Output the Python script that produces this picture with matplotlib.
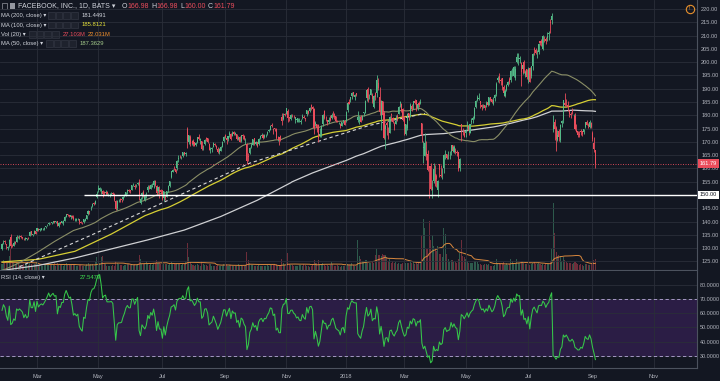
import numpy as np
import pandas as pd
import matplotlib
matplotlib.use("Agg")
import matplotlib.pyplot as plt
from matplotlib.patches import Rectangle
from matplotlib.lines import Line2D
from matplotlib.transforms import blended_transform_factory

plt.rcParams['font.family'] = ['Liberation Sans', 'DejaVu Sans']

# ---------------- data (daily FB candles, Jan 25 2017 - Sep 6 2018) ----------------
OPEN = [
    129.5, 132.7, 132.7, 131.5, 130.2,
    130.9, 134.1, 131.2, 130.9, 132.2, 132.4, 134.2, 134.1, 134.7, 134.0, 133.5, 133.5, 133.5, 134.0, 134.5, 136.3, 135.0, 135.4, 136.4,
    136.5, 137.1, 136.8, 137.0, 137.1, 137.2, 137.9, 138.7, 138.9, 139.5, 139.4, 140.0, 140.2, 139.9, 140.2, 138.4, 139.8, 139.5, 139.3, 140.4, 141.9, 142.7, 142.3,
    141.9, 142.0, 141.9, 140.9, 140.7, 141.0, 140.8, 139.7, 139.5, 139.8, 140.4, 140.9, 142.9, 143.9, 145.5, 145.9, 146.8, 146.7, 149.4,
    151.7, 151.8, 151.5, 151.6, 151.1, 150.7, 151.3, 150.3, 150.2, 150.4, 150.6, 150.4, 147.7, 145.0, 148.0, 148.5, 148.4, 148.4, 149.5, 150.0, 151.0, 151.9,
    151.8, 151.9, 153.6, 153.4, 153.6, 154.1, 154.8, 147.0, 149.7, 151.3, 148.0, 150.6, 151.7, 153.0, 152.4, 153.0, 153.6, 155.4, 153.2, 151.4, 152.0, 151.8,
    151.7, 149.0, 150.0, 149.3, 151.7, 153.4, 156.7, 158.7, 160.1, 159.6, 160.0, 163.6, 164.8, 164.2, 164.6, 166.0, 165.6, 174.7, 170.0, 172.0,
    169.8, 170.3, 169.8, 169.0, 169.9, 171.9, 170.6, 170.3, 167.9, 169.1, 171.5, 171.3, 169.3, 166.9, 167.2, 168.2, 169.3, 168.4, 167.2, 166.1, 166.6, 168.0, 170.4,
    172.4, 171.3, 170.9, 172.7, 172.9, 172.3, 173.8, 173.0, 172.8, 171.0, 171.7, 170.4, 172.7, 172.2, 170.3, 169.2, 164.5, 165.8, 167.9, 169.0,
    171.4, 169.3, 169.8, 169.2, 171.5, 172.3, 172.7, 171.7, 172.5, 173.0, 173.9, 174.5, 176.3, 174.9, 175.3, 175.0, 171.7, 171.9, 172.3, 179.5, 178.5, 180.6,
    180.6, 181.5, 179.3, 178.6, 180.5, 179.8, 178.3, 178.4, 177.4, 178.1, 177.3, 179.5, 179.3, 178.8, 180.3, 181.8, 181.5, 183.8, 183.3, 182.3, 176.9,
    176.8, 176.3, 172.7, 172.5, 176.6, 181.5, 179.1, 178.1, 177.3, 178.8, 179.0, 181.0, 180.5, 179.8, 177.9, 177.1, 176.6, 176.0, 177.9, 178.0,
    177.7, 181.9, 184.9, 185.6, 187.2, 188.7, 186.9, 188.4, 178.1, 177.9, 179.3, 178.1, 180.9, 180.9, 186.6, 189.9, 187.5, 187.8, 187.6, 183.0, 188.4,
    188.2, 192.0, 186.9, 178.6, 185.2, 181.0, 174.8, 177.1, 173.4, 173.5, 180.5, 178.9, 176.6, 176.7, 179.9, 180.5, 184.5, 184.4, 182.3,
    179.0, 172.8, 175.2, 180.7, 179.8, 183.6, 183.9, 185.2, 185.6, 182.6, 184.5, 184.5, 177.0, 167.5, 164.8, 166.1, 165.4, 160.8, 160.8, 151.7, 155.2,
    157.8, 157.0, 152.0, 161.6, 157.7, 157.8, 160.0, 166.0, 165.5, 164.5, 164.6, 166.3, 168.7, 166.3, 166.6, 166.0, 166.0, 160.3, 176.8, 173.8, 173.5,
    173.2, 175.2, 175.9, 173.5, 177.4, 178.3, 179.1, 183.2, 185.9, 186.0, 185.3, 183.7, 183.8, 183.7, 184.0, 184.9, 184.0, 186.9, 186.0, 184.1, 186.5, 187.9,
    193.1, 194.9, 193.1, 194.2, 190.6, 187.1, 189.4, 191.4, 193.7, 193.1, 195.8, 194.8, 194.0, 199.9, 201.2, 201.2, 199.6, 197.6, 200.0, 195.2, 197.3,
    193.4, 197.8, 194.7, 198.5, 204.9, 204.5, 202.2, 204.0, 207.8, 208.0, 204.9, 209.6, 208.8, 208.9, 210.6, 215.1, 215.7, 174.9, 177.3, 175.3, 170.7,
    173.9, 170.7, 177.0, 178.1, 184.6, 185.5, 184.0, 181.6, 180.5, 181.5, 179.3, 179.9, 174.5, 174.0, 172.8, 173.9, 173.9, 173.6, 175.7, 177.4, 176.3, 175.6, 177.2,
    173.5, 169.5, 166.98,
]
HIGH = [
    131.8, 133.1, 133.1, 131.6, 130.7,
    133.5, 135.5, 131.6, 132.5, 132.8, 134.8, 134.7, 134.9, 134.9, 134.3, 134.0, 134.1, 133.9, 134.3, 136.6, 136.5, 135.5, 136.8, 136.6,
    137.5, 137.4, 137.4, 137.7, 137.7, 138.0, 138.5, 139.0, 139.7, 139.6, 139.8, 140.2, 140.4, 140.1, 140.3, 139.9, 140.0, 140.4, 140.5, 142.0, 142.8, 142.9, 142.6,
    142.5, 142.3, 142.4, 141.5, 141.3, 141.5, 140.9, 140.1, 140.0, 141.1, 141.4, 142.6, 144.2, 144.0, 145.9, 146.9, 147.3, 148.2, 151.5,
    153.6, 153.0, 152.6, 151.9, 151.5, 151.9, 151.6, 150.8, 150.7, 151.0, 151.0, 150.6, 148.0, 148.1, 148.6, 148.7, 148.6, 149.6, 150.5, 151.3, 152.2, 152.4,
    152.0, 153.7, 154.5, 154.1, 154.2, 154.9, 156.0, 149.4, 151.2, 151.7, 150.4, 151.0, 153.6, 153.6, 154.2, 154.6, 155.8, 155.5, 153.6, 153.1, 153.2, 152.2,
    152.0, 151.5, 150.5, 151.6, 153.9, 155.4, 159.2, 159.8, 160.8, 159.9, 163.0, 164.9, 165.0, 164.6, 166.2, 166.3, 166.3, 175.5, 172.7, 172.4,
    170.6, 171.2, 170.0, 170.0, 172.0, 173.0, 171.5, 170.5, 168.8, 171.0, 171.9, 171.4, 169.5, 168.0, 168.2, 169.9, 169.6, 169.0, 168.2, 167.6, 168.3, 170.2, 172.2,
    172.9, 172.2, 172.3, 173.9, 173.4, 174.0, 173.9, 173.7, 172.9, 172.2, 172.2, 172.6, 172.9, 172.6, 171.6, 169.4, 165.8, 168.0, 169.4, 171.0,
    171.5, 170.4, 170.0, 171.6, 172.4, 173.3, 173.0, 172.9, 173.0, 174.0, 175.0, 176.2, 177.2, 175.3, 175.4, 175.3, 172.3, 172.0, 172.7, 180.8, 180.8, 180.8,
    182.9, 182.5, 179.4, 180.4, 180.6, 180.1, 179.4, 179.1, 179.1, 179.0, 178.5, 180.3, 180.0, 179.1, 181.9, 181.9, 183.0, 184.3, 183.6, 182.7, 178.0,
    176.8, 176.6, 175.1, 176.3, 180.4, 182.0, 179.6, 178.4, 179.4, 180.0, 180.8, 181.5, 180.8, 179.8, 178.3, 177.6, 177.2, 177.6, 178.2, 178.1,
    181.6, 184.8, 186.2, 186.9, 188.9, 188.8, 188.0, 188.4, 181.5, 179.6, 180.1, 180.1, 181.4, 185.6, 189.5, 190.7, 188.0, 190.0, 188.3, 187.5, 188.8,
    195.3, 194.2, 190.6, 185.8, 185.1, 181.6, 176.6, 177.8, 175.7, 179.9, 180.7, 179.5, 177.4, 180.0, 180.5, 183.4, 185.3, 184.7, 182.9,
    179.8, 176.7, 181.0, 180.9, 184.6, 184.2, 185.2, 186.1, 185.6, 184.7, 185.4, 186.1, 177.2, 170.2, 173.4, 170.5, 167.1, 161.1, 162.0, 155.6, 162.1,
    161.4, 157.9, 155.8, 161.8, 161.4, 160.0, 165.4, 166.9, 165.4, 166.7, 166.6, 169.0, 168.9, 168.8, 167.7, 167.0, 166.3, 163.8, 176.8, 175.4, 174.0,
    175.0, 177.8, 176.5, 176.8, 178.8, 179.6, 183.0, 185.6, 187.6, 188.2, 185.5, 184.3, 184.1, 183.9, 185.2, 186.0, 186.9, 187.0, 186.1, 186.8, 188.0, 192.7,
    194.6, 195.9, 194.0, 194.2, 191.3, 189.8, 191.9, 193.0, 194.5, 197.0, 197.8, 198.5, 198.7, 203.6, 203.4, 202.3, 200.0, 199.1, 200.8, 197.2, 197.6,
    198.0, 198.0, 198.6, 203.6, 205.8, 205.2, 204.5, 207.1, 208.1, 208.7, 210.2, 210.0, 209.3, 211.5, 211.6, 216.2, 218.6, 180.1, 178.5, 175.8, 174.4,
    174.9, 176.8, 178.3, 185.8, 188.3, 186.3, 185.3, 182.1, 181.2, 182.6, 180.5, 180.7, 176.9, 174.2, 174.0, 174.7, 174.1, 175.0, 177.6, 178.4, 177.1, 178.4, 177.5,
    173.9, 171.8, 166.98,
]
LOW = [
    129.3, 131.7, 131.5, 129.6, 129.2,
    130.4, 130.0, 130.3, 130.8, 131.4, 132.3, 133.7, 133.4, 133.8, 133.4, 133.0, 133.1, 132.9, 133.4, 134.4, 134.8, 134.5, 135.2, 135.3,
    136.4, 136.5, 136.3, 136.7, 136.8, 137.0, 137.6, 138.4, 138.6, 139.0, 139.0, 139.6, 139.6, 139.4, 138.3, 138.0, 139.2, 139.3, 138.6, 140.2, 141.6, 142.0, 141.7,
    141.1, 141.2, 140.6, 140.2, 140.3, 140.5, 139.1, 139.4, 139.0, 139.6, 140.1, 140.8, 142.5, 142.8, 144.5, 145.3, 146.1, 146.5, 148.7,
    151.3, 151.6, 150.3, 149.1, 150.0, 150.1, 150.0, 149.6, 149.3, 150.0, 149.9, 147.9, 144.5, 144.5, 147.3, 147.5, 147.5, 148.1, 149.2, 149.7, 150.5, 151.0,
    150.8, 151.7, 153.3, 152.4, 153.0, 153.7, 148.1, 146.5, 148.5, 149.2, 147.7, 148.9, 151.3, 152.2, 152.1, 152.9, 152.8, 153.5, 150.1, 150.6, 149.0, 150.2,
    148.2, 147.8, 148.0, 149.1, 151.3, 152.9, 156.5, 158.5, 159.3, 158.3, 159.5, 162.6, 163.8, 163.5, 164.4, 164.9, 164.6, 167.5, 169.3, 168.6,
    168.9, 168.4, 168.3, 168.5, 169.6, 170.8, 169.3, 167.1, 166.9, 168.7, 170.4, 169.5, 166.9, 165.9, 166.3, 168.0, 168.4, 167.4, 165.9, 165.4, 166.4, 167.9, 170.1,
    171.6, 169.3, 170.4, 172.0, 170.8, 172.3, 172.4, 172.5, 170.8, 170.7, 169.9, 170.1, 171.0, 170.7, 169.3, 161.6, 162.8, 165.3, 167.5, 168.8,
    168.8, 168.9, 168.2, 168.9, 171.0, 172.0, 171.0, 171.6, 172.0, 172.6, 173.7, 174.4, 175.7, 173.1, 174.1, 171.0, 170.5, 168.9, 170.2, 176.5, 178.1, 179.8,
    180.4, 177.3, 177.9, 178.4, 179.4, 178.8, 177.1, 177.6, 177.3, 177.4, 176.7, 178.7, 178.8, 178.0, 179.7, 180.6, 181.4, 182.1, 180.8, 172.8, 175.8,
    173.6, 170.0, 172.0, 171.9, 175.8, 178.6, 177.7, 176.4, 177.1, 177.9, 178.6, 179.4, 178.5, 177.6, 177.3, 176.7, 175.4, 175.8, 177.1, 176.3,
    177.6, 181.3, 184.1, 184.9, 186.3, 187.1, 185.6, 187.3, 177.4, 176.6, 177.4, 178.2, 179.8, 180.8, 185.4, 185.1, 186.2, 187.6, 184.8, 182.6, 185.8,
    186.8, 189.5, 180.0, 174.4, 179.9, 171.0, 167.2, 172.4, 171.0, 173.2, 177.9, 177.2, 174.3, 176.6, 178.0, 180.4, 183.2, 181.2, 178.0,
    172.7, 172.5, 174.3, 178.2, 179.2, 181.6, 182.4, 184.4, 181.5, 181.9, 183.1, 184.3, 170.1, 161.9, 164.6, 163.3, 159.0, 149.0, 152.0, 149.0, 154.6,
    153.4, 153.0, 149.4, 156.7, 156.8, 156.0, 158.4, 163.5, 163.7, 163.4, 163.6, 164.9, 166.1, 165.7, 165.6, 164.6, 159.0, 158.9, 170.3, 172.5, 171.9,
    172.0, 174.3, 172.4, 173.2, 176.8, 177.0, 178.7, 182.7, 185.3, 185.9, 182.9, 182.0, 182.6, 181.9, 183.1, 183.6, 183.7, 185.5, 184.8, 183.8, 185.5, 187.4,
    192.4, 192.2, 191.5, 189.6, 187.1, 186.9, 189.1, 191.0, 191.9, 192.6, 194.8, 194.4, 193.1, 199.5, 199.0, 199.5, 191.0, 195.6, 195.8, 194.5, 193.8,
    192.1, 192.5, 194.1, 197.2, 202.6, 202.9, 201.7, 203.0, 206.5, 206.0, 204.5, 207.7, 206.7, 207.8, 208.4, 211.0, 214.3, 173.8, 170.6, 166.6, 170.3,
    170.2, 170.1, 175.5, 177.0, 183.6, 183.6, 181.8, 179.4, 178.8, 180.6, 177.1, 174.4, 173.7, 171.7, 171.7, 172.6, 172.2, 173.0, 175.1, 176.2, 175.3, 175.2, 175.1,
    170.3, 166.3, 160.00,
]
CLOSE = [
    131.5, 132.8, 132.2, 131.0, 130.3,
    133.2, 130.8, 131.0, 132.1, 131.8, 134.2, 134.1, 134.2, 134.1, 133.9, 133.4, 133.8, 133.5, 133.7, 136.1, 135.4, 135.4, 136.4, 135.5,
    137.4, 136.8, 137.2, 137.4, 137.3, 137.7, 138.2, 138.8, 139.6, 139.3, 139.7, 140.0, 139.8, 139.9, 138.5, 139.6, 139.5, 140.3, 140.3, 141.8, 142.7, 142.4, 142.1,
    142.3, 141.7, 140.8, 141.0, 140.8, 141.0, 139.9, 139.6, 139.4, 140.9, 140.8, 142.3, 143.8, 143.7, 145.5, 146.5, 146.6, 147.7, 150.3,
    152.5, 152.8, 151.8, 150.2, 150.9, 151.1, 150.3, 150.3, 150.3, 150.4, 150.2, 148.0, 144.9, 147.7, 148.1, 148.1, 148.2, 149.2, 150.0, 151.2, 151.8, 151.5,
    151.5, 153.6, 153.6, 153.0, 153.9, 154.7, 149.6, 148.4, 150.7, 150.2, 149.8, 150.6, 152.9, 152.3, 153.9, 153.4, 155.1, 153.6, 150.6, 152.9, 151.0, 151.0,
    148.4, 151.4, 148.8, 151.4, 153.5, 155.3, 158.9, 159.3, 160.0, 158.7, 162.9, 164.1, 164.5, 164.4, 166.0, 165.3, 165.6, 170.4, 172.5, 169.3,
    169.9, 169.3, 168.6, 169.6, 172.0, 171.2, 171.2, 167.4, 168.1, 170.8, 171.0, 170.0, 166.9, 167.4, 167.8, 169.6, 168.7, 167.7, 166.3, 167.2, 168.1, 169.9, 172.0,
    172.0, 170.7, 172.1, 173.2, 171.0, 173.5, 173.0, 173.1, 171.0, 171.6, 170.0, 172.5, 172.2, 171.1, 170.5, 162.9, 164.2, 167.7, 168.7, 170.9,
    169.5, 170.0, 168.4, 171.2, 172.2, 172.5, 171.6, 172.7, 172.6, 173.7, 174.5, 176.1, 176.0, 174.6, 175.0, 171.3, 171.8, 170.6, 170.6, 177.9, 179.9, 180.1,
    182.7, 178.9, 178.9, 180.2, 180.3, 179.6, 179.3, 178.5, 178.8, 178.1, 178.0, 179.6, 179.0, 178.7, 181.9, 180.9, 182.8, 183.0, 182.4, 175.1, 177.2,
    175.1, 171.5, 172.8, 176.1, 180.1, 179.0, 179.0, 177.0, 178.3, 178.4, 180.2, 180.8, 179.5, 177.9, 177.5, 177.2, 176.0, 177.6, 177.9, 176.5,
    181.4, 184.7, 184.3, 186.9, 188.3, 187.9, 187.8, 187.8, 179.4, 178.4, 177.6, 179.8, 181.3, 185.4, 189.4, 186.6, 187.5, 190.0, 186.0, 187.1, 186.9,
    193.1, 190.3, 181.3, 185.3, 180.2, 171.6, 176.1, 176.4, 173.2, 179.5, 180.0, 177.4, 176.0, 177.9, 179.0, 183.3, 184.9, 181.5, 178.3,
    175.9, 176.6, 180.4, 179.8, 183.7, 182.3, 185.2, 184.8, 181.9, 184.2, 183.9, 185.1, 172.6, 168.2, 169.4, 164.9, 159.4, 160.1, 152.2, 153.0, 159.8,
    155.4, 156.1, 155.1, 159.3, 157.2, 157.9, 165.0, 166.3, 163.9, 164.5, 164.8, 168.7, 166.4, 168.1, 166.3, 165.8, 159.7, 163.7, 174.2, 173.6, 172.0,
    173.9, 176.1, 174.0, 176.6, 178.0, 178.9, 182.7, 185.5, 187.0, 186.6, 184.3, 183.2, 183.8, 182.7, 184.5, 183.8, 186.9, 185.9, 184.9, 185.7, 187.7, 191.8,
    194.0, 193.3, 192.9, 191.3, 188.2, 189.1, 191.5, 192.4, 192.4, 196.8, 195.9, 198.3, 197.5, 202.0, 201.5, 201.7, 196.4, 199.0, 195.8, 196.2, 194.3,
    197.4, 192.7, 198.5, 203.2, 204.7, 203.5, 202.5, 206.9, 207.3, 207.2, 210.0, 209.4, 208.1, 209.9, 210.9, 214.7, 217.5, 176.3, 174.9, 171.1, 172.6,
    171.7, 176.4, 177.8, 185.7, 183.8, 185.2, 183.1, 180.3, 180.1, 181.1, 179.5, 174.7, 173.8, 172.5, 172.6, 173.6, 172.9, 174.7, 177.5, 176.3, 175.9, 177.6, 175.7,
    171.2, 167.2, 161.79,
]
VOLUME_M = [
    16, 26, 20, 19, 21,
    35, 54, 20, 17, 15, 20, 14, 13, 13, 12, 15, 14, 14, 13, 17, 14, 11, 15, 15,
    20, 12, 13, 11, 10, 15, 13, 17, 15, 12, 15, 16, 17, 11, 19, 12, 12, 13, 10, 14, 17, 12, 14,
    12, 14, 16, 12, 10, 10, 13, 12, 11, 11, 11, 14, 18, 12, 16, 14, 11, 20, 32,
    20, 18, 32, 36, 18, 16, 11, 11, 11, 10, 12, 11, 22, 18, 15, 12, 12, 11, 12, 13, 14, 15,
    12, 16, 12, 15, 12, 16, 39, 28, 15, 16, 19, 23, 16, 13, 14, 13, 17, 18, 26, 19, 19, 14,
    13, 15, 16, 15, 13, 14, 21, 16, 15, 14, 19, 16, 16, 13, 16, 15, 20, 68, 33, 20,
    15, 13, 11, 13, 14, 13, 11, 22, 15, 12, 13, 11, 16, 14, 10, 10, 10, 10, 12, 10, 10, 11, 16,
    14, 14, 11, 12, 13, 11, 10, 10, 11, 15, 11, 12, 11, 11, 12, 46, 25, 18, 12, 12,
    11, 10, 11, 13, 10, 11, 10, 9, 10, 12, 11, 13, 12, 12, 15, 14, 11, 10, 11, 28, 17, 13,
    18, 44, 16, 13, 12, 10, 10, 9, 10, 12, 13, 11, 15, 12, 11, 10, 8, 11, 16, 26, 18,
    18, 26, 16, 16, 18, 13, 10, 13, 11, 13, 20, 15, 11, 11, 13, 9, 8, 11, 9, 10,
    18, 16, 13, 13, 17, 12, 10, 9, 77, 36, 29, 23, 23, 26, 26, 17, 17, 18, 21, 17, 38,
    54, 39, 39, 36, 40, 39, 38, 31, 22, 28, 18, 23, 18, 21, 16, 19, 16, 16, 18,
    28, 17, 19, 17, 22, 18, 20, 15, 20, 15, 20, 23, 88, 129, 106, 54, 53, 125, 76, 90, 60,
    55, 48, 60, 41, 41, 34, 107, 91, 41, 28, 20, 26, 25, 21, 21, 19, 29, 43, 77, 35, 33,
    27, 24, 19, 17, 18, 17, 24, 24, 20, 15, 16, 13, 12, 16, 16, 13, 14, 11, 11, 10, 13, 27,
    18, 18, 15, 16, 21, 13, 18, 13, 16, 28, 22, 19, 16, 29, 19, 19, 24, 22, 18, 15, 15,
    14, 13, 14, 19, 20, 14, 16, 18, 16, 12, 15, 12, 14, 14, 16, 22, 54, 170, 94, 46, 36,
    38, 35, 24, 33, 25, 20, 17, 17, 18, 15, 19, 20, 18, 16, 13, 14, 12, 11, 15, 16, 13, 12, 15,
    22, 26, 27.1,
]
START_DATE, END_DATE = "2017-01-25", "2018-09-06"
HOLIDAYS = ["2017-02-20", "2017-04-14", "2017-05-29", "2017-07-04", "2017-09-04",
            "2017-11-23", "2017-12-25", "2018-01-01", "2018-01-15", "2018-02-19",
            "2018-03-30", "2018-05-28", "2018-07-04", "2018-09-03"]
TICK_MONTHS = ["2017-03", "2017-05", "2017-07", "2017-09", "2017-11", "2018-01",
               "2018-03", "2018-05", "2018-07", "2018-09", "2018-11"]
TICK_LABELS = ["Mar", "May", "Jul", "Sep", "Nov", "2018", "Mar", "May", "Jul", "Sep", "Nov"]

MA50_EARLY_IDX = [0, 12, 24, 36, 48]
MA50_EARLY_VAL = [121.5, 124.5, 128.3, 132.5, 136.3]
MA100_EARLY_IDX = [0, 25, 50, 75, 98]
MA100_EARLY_VAL = [124.8, 125.8, 128.8, 135.3, 142.2]
MA200_EARLY_IDX = [0, 25, 50, 75, 100, 125, 150, 175, 198]
MA200_EARLY_VAL = [121.6, 123.5, 126.3, 129.7, 133.1, 136.8, 141.9, 148.0, 154.6]
VOLMA_EARLY_IDX = [0, 18]
VOLMA_EARLY_VAL = [19.0, 18.5]
RSI_EARLY = [62, 66, 64, 58, 55, 65, 52, 53, 56, 55, 63, 62, 63, 62]
DASH_IDX = [12, 26, 60, 95, 130, 170, 210, 252, 290]
DASH_VAL = [123.0, 126.4, 134.6, 143.3, 152.0, 162.0, 169.0, 176.2, 180.7]
RAY_LEVEL, RAY_START = 150.0, "2017-04-17"
LAST_PRICE = 161.79

# ---------------- styling ----------------
W, H = 720, 381
BG = '#131722'
GRID = '#2a2e39'
TXT = '#b2b5be'
UP = '#53b987'
DN = '#eb4d5c'
BORDER = '#4c525e'
AXFS = 4.1

n = min(len(OPEN), len(HIGH), len(LOW), len(CLOSE), len(VOLUME_M))
dates = pd.bdate_range(START_DATE, END_DATE)
dates = dates[~dates.isin(pd.to_datetime(HOLIDAYS))]
n = min(n, len(dates))
o = np.array(OPEN[:n]); c = np.array(CLOSE[:n])
h = np.maximum(np.array(HIGH[:n]), np.maximum(o, c))
l = np.minimum(np.array(LOW[:n]), np.minimum(o, c))
v = np.array(VOLUME_M[:n], dtype=float)
idx = np.arange(n)
dates = dates[:n]

tick_pos = []
for m in TICK_MONTHS:
    ms = pd.Timestamp(m + "-01")
    if ms <= dates[-1]:
        tick_pos.append(int(np.searchsorted(dates, ms)))
    else:
        extra = len(pd.bdate_range(dates[-1] + pd.Timedelta(days=1), ms + pd.offsets.BDay(0)))
        tick_pos.append(n - 1 + extra)

fig = plt.figure(figsize=(W / 100, H / 100), dpi=100, facecolor=BG)

def fx(x):
    return x / W

def fy(y):
    return 1 - y / H

PLOT_R = 697
P_TOP, P_BOT = 0, 270
R_TOP, R_BOT = 271, 368
rect_p = [0, fy(P_BOT), fx(PLOT_R), (P_BOT - P_TOP) / H]
rect_r = [0, fy(R_BOT), fx(PLOT_R), (R_BOT - R_TOP) / H]

axv = fig.add_axes(rect_p, facecolor=BG, zorder=0)
ax = fig.add_axes(rect_p, sharex=axv, zorder=1)
ax.patch.set_visible(False)
axr = fig.add_axes(rect_r, sharex=axv, facecolor=BG, zorder=1)

PX_PER_BAR, X0 = 1.458, 2.0
axv.set_xlim(-X0 / PX_PER_BAR, (PLOT_R - X0) / PX_PER_BAR)

# volume
vcol = np.where(c >= o, UP, DN)
axv.bar(idx, v, width=0.7, color=vcol, alpha=0.42, lw=0)
vma = pd.Series(v).rolling(20).mean().to_numpy()
axv.plot(VOLMA_EARLY_IDX + list(range(19, n)), VOLMA_EARLY_VAL + list(vma[19:]),
         color='#d9883e', lw=0.7)
axv.set_ylim(0, 170 * (P_BOT - P_TOP) / 67.0)
axv.set_yticks([])
for s in axv.spines.values():
    s.set_visible(False)
axv.tick_params(axis='x', labelbottom=False, length=0)

# price
ax.set_ylim(121.77, 223.39)
ax.set_yticks(np.arange(125, 221, 5))
ax.yaxis.set_major_formatter(matplotlib.ticker.FormatStrFormatter('%.2f'))
ax.yaxis.tick_right()
ax.tick_params(axis='y', colors=TXT, labelsize=AXFS, length=0, pad=3)
ax.tick_params(axis='x', labelbottom=False, length=0)
ax.set_xticks(tick_pos)
ax.grid(True, color=GRID, lw=0.6, zorder=0)
ax.set_axisbelow(True)
for k, s in ax.spines.items():
    s.set_visible(k in ('right', 'bottom'))
    s.set_color(BORDER)
    s.set_linewidth(0.8)

def ma_line(vals, win, eidx, evals):
    r = pd.Series(vals).rolling(win).mean().to_numpy()
    return list(eidx) + list(range(win - 1, n)), list(evals) + list(r[win - 1:])

xs, ys = ma_line(c, 200, MA200_EARLY_IDX, MA200_EARLY_VAL)
ax.plot(xs, ys, color='#cfd0d3', lw=0.9, zorder=2)
xs, ys = ma_line(c, 100, MA100_EARLY_IDX, MA100_EARLY_VAL)
ax.plot(xs, ys, color='#d6cf34', lw=0.9, zorder=2)
xs, ys = ma_line(c, 50, MA50_EARLY_IDX, MA50_EARLY_VAL)
ax.plot(xs, ys, color='#8a8e66', lw=0.8, zorder=2)
ax.plot(DASH_IDX, DASH_VAL, color='#d8d8d8', lw=0.8, ls=(0, (3, 2.5)), zorder=2)

# candles
ccol = np.where(c >= o, UP, DN)
ax.vlines(idx, l, h, colors=ccol, lw=0.6, zorder=3)
ax.bar(idx, np.maximum(np.abs(c - o), 0.15), bottom=np.minimum(o, c), width=0.72,
       color=ccol, lw=0, zorder=4)

# horizontal ray and last price line
ray_i = int(np.searchsorted(dates, pd.Timestamp(RAY_START)))
ax.hlines(RAY_LEVEL, ray_i, (PLOT_R - X0) / PX_PER_BAR, color='white', lw=1.0, zorder=5)
ax.axhline(LAST_PRICE, color=DN, lw=0.6, ls=(0, (1.2, 1.8)), zorder=2)
tr = blended_transform_factory(ax.transAxes, ax.transData)
ax.text(1.004, LAST_PRICE, f'{LAST_PRICE:.2f}', transform=tr, ha='left', va='center',
        fontsize=AXFS, color='white', clip_on=False, zorder=10,
        bbox=dict(boxstyle='square,pad=0.35', fc=DN, ec='none'))
ax.text(1.004, RAY_LEVEL, f'{RAY_LEVEL:.2f}', transform=tr, ha='left', va='center',
        fontsize=AXFS, color='#131722', clip_on=False, zorder=10,
        bbox=dict(boxstyle='square,pad=0.35', fc='white', ec='none'))

# RSI
cs = pd.Series(c)
d = cs.diff()
ag = d.clip(lower=0).ewm(alpha=1 / 14, adjust=True).mean()
al = (-d).clip(lower=0).ewm(alpha=1 / 14, adjust=True).mean()
rsi = (100 - 100 / (1 + ag / al)).to_numpy()
rsi[:len(RSI_EARLY)] = RSI_EARLY
axr.set_ylim(21.6, 89.6)
axr.axhspan(30, 70, color='#6a2ea0', alpha=0.28, lw=0, zorder=0)
axr.set_yticks([30, 40, 50, 60, 70, 80])
axr.yaxis.set_major_formatter(matplotlib.ticker.FormatStrFormatter('%.4f'))
axr.yaxis.tick_right()
axr.tick_params(axis='y', colors=TXT, labelsize=3.9, length=0, pad=2.2)
axr.set_xticks(tick_pos)
axr.set_xticklabels(TICK_LABELS)
axr.tick_params(axis='x', colors=TXT, labelsize=AXFS, length=0, pad=4)
axr.grid(True, color=GRID, lw=0.6, zorder=0)
axr.set_axisbelow(True)
for yv in (30, 70):
    axr.axhline(yv, color='#b9a8dc', lw=0.6, ls=(0, (4, 3)), zorder=1)
axr.plot(idx, rsi, color='#36c84a', lw=0.75, zorder=3)
for k, s in axr.spines.items():
    s.set_visible(k in ('right', 'bottom'))
    s.set_color(BORDER)
    s.set_linewidth(0.8)

# ---------------- legend / header ----------------
LFS = 4.2
HFS = 5.0

def ftext(x, y, s, color='#d1d4dc', size=LFS, **kw):
    fig.text(fx(x), fy(y), s, color=color, fontsize=size, ha='left', va='center', **kw)

def boxes(x0, y, count=4, w=6.5, gap=1.2):
    for k in range(count):
        fig.add_artist(Rectangle((fx(x0 + k * (w + gap)), fy(y + w / 2)), w / W, w / H,
                                 transform=fig.transFigure, fc='#1e222d', ec='#3a3e4a', lw=0.4))

fig.add_artist(Rectangle((fx(2), fy(9)), 5 / W, 6 / H, transform=fig.transFigure,
                         fc='none', ec='#9598a1', lw=0.5))
fig.add_artist(Rectangle((fx(10), fy(9)), 5 / W, 6 / H, transform=fig.transFigure,
                         fc='#9598a1', ec='none'))
ftext(18, 6, 'FACEBOOK, INC., 1D, BATS \u25be', size=HFS)
for lx, lab, vx, val in [(122, 'O', 127, '166.98'), (151, 'H', 156, '166.98'),
                         (180, 'L', 184, '160.00'), (208, 'C', 213, '161.79')]:
    ftext(lx, 6, lab, size=HFS)
    ftext(vx, 6, val, color=DN, size=HFS)

ftext(1, 15.3, 'MA (200, close) \u25be')
boxes(48, 15.3)
ftext(82, 15.3, '181.4491', color='#d1d4dc')
ftext(1, 25, 'MA (100, close) \u25be')
boxes(48, 25)
ftext(82, 25, '185.8121', color='#e6e13a')
ftext(1, 34.3, 'Vol (20) \u25be')
boxes(29, 34.3)
ftext(63, 34.3, '27.103M', color=DN)
ftext(88, 34.3, '22.031M', color='#f0902e')
ftext(1, 43.3, 'MA (50, close) \u25be')
boxes(46, 43.3)
ftext(80, 43.3, '187.3629', color='#a3c98a')
ftext(1, 277.7, 'RSI (14, close) \u25be')
boxes(45, 277.7)
ftext(80, 277.7, '27.5479', color='#3fdc4f')

fig.add_artist(Line2D([fx(690)], [fy(9)], marker='o', ms=6, mfc='none', mec='#e8912d',
                      mew=0.8, transform=fig.transFigure))
ftext(689, 9, '!', color='#e8912d', size=4)

fig.savefig('out.png', dpi=100, facecolor=BG)
